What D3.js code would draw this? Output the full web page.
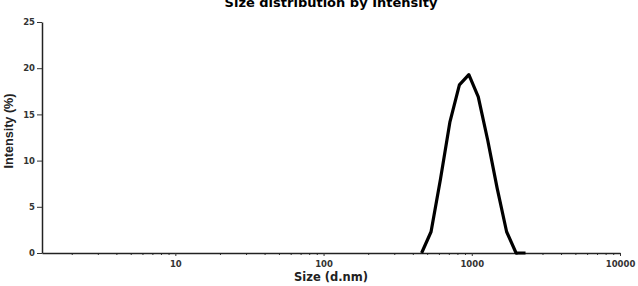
<!DOCTYPE html>
<html lang="en">

<head>
    <meta charset="UTF-8">
    <title>size distribution</title>
    <style>
        body {
            margin: 0;
            background: #fff;
        }

        .tick text {
            font: bold 8.5px "DejaVu Sans", sans-serif;
            fill: #333;
        }

        .title {
            font: bold 13px "DejaVu Sans", sans-serif;
        }

        .xlabel {
            font: bold 11.5px "DejaVu Sans", sans-serif;
            fill: #222;
        }

        .ylabel {
            font: bold 12px "Liberation Sans Narrow", "Liberation Sans", sans-serif;
            fill: #222;
        }
    </style>
</head>

<body>
    <svg width="638" height="286"></svg>
    <script src="https://d3js.org/d3.v7.min.js"></script>
    <script>
        // size bins (nm) and intensity (%)
        let sizes = [458.7, 531.2, 615.1, 712.4, 825.0, 955.4, 1106, 1281, 1484, 1718, 1990, 2305];
        let intensity = [0, 2.3, 8.0, 14.2, 18.2, 19.3, 16.9, 12.2, 7.0, 2.3, 0, 0];
        let xTicks = [10, 100, 1000, 10000];
        let yTicks = [0, 5, 10, 15, 20, 25];

        let svg = d3.select("svg");

        let x = d3.scaleLog().domain([1.26, 10000]).range([42, 620]);
        let y = d3.scaleLinear().domain([0, 25]).range([253, 22]);

        // minor ticks 2..9 of each decade
        let minor = [];
        [1, 10, 100, 1000].forEach(d => {
            for (let k = 2; k <= 9; k++) {
                if (d * k >= 1.26) minor.push(d * k);
            }
        });

        svg.append("g")
            .attr("transform", `translate(0,${y(0)})`)
            .call(d3.axisBottom(x).tickValues(minor).tickSize(2).tickFormat(""))
            .call(g => g.select(".domain").remove())
            .call(g => g.selectAll("line").attr("stroke", "#333"));

        let xAxis = svg.append("g")
            .attr("transform", `translate(0,${y(0)})`)
            .call(d3.axisBottom(x).tickValues(xTicks).tickSize(3).tickSizeOuter(0).tickPadding(5)
                .tickFormat(d3.format("d")));
        xAxis.select(".domain").attr("stroke", "#222").attr("stroke-width", 1.5);
        xAxis.selectAll("line").attr("stroke", "#333");

        let yAxis = svg.append("g")
            .attr("transform", `translate(${x(1.26)},0)`)
            .call(d3.axisLeft(y).tickValues(yTicks).tickSize(5).tickSizeOuter(0).tickPadding(2));
        yAxis.select(".domain").attr("stroke", "#222").attr("stroke-width", 1.5);
        yAxis.selectAll("line").attr("stroke", "#333");

        let line = d3.line()
            .x((d, i) => x(sizes[i]))
            .y(d => y(d));

        svg.append("path")
            .datum(intensity)
            .attr("fill", "none")
            .attr("stroke", "#000")
            .attr("stroke-width", 3.2)
            .attr("stroke-linejoin", "round")
            .attr("d", line);

        svg.append("text")
            .attr("class", "title")
            .attr("x", 331)
            .attr("y", 7)
            .attr("text-anchor", "middle")
            .text("Size distribution by Intensity");

        svg.append("text")
            .attr("class", "xlabel")
            .attr("x", 331)
            .attr("y", 281)
            .attr("text-anchor", "middle")
            .text("Size (d.nm)");

        svg.append("text")
            .attr("class", "ylabel")
            .attr("transform", "translate(13,131) rotate(-90)")
            .attr("text-anchor", "middle")
            .attr("textLength", 75)
            .attr("lengthAdjust", "spacingAndGlyphs")
            .text("Intensity (%)");
    </script>

</body>

</html>
